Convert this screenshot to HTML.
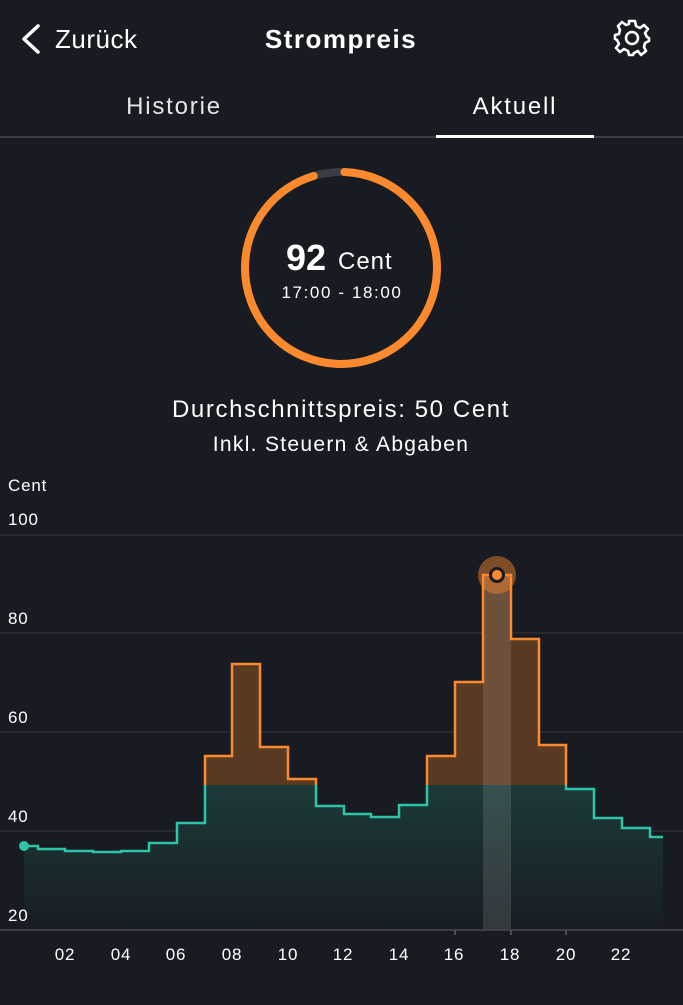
<!DOCTYPE html>
<html><head><meta charset="utf-8"><style>
html,body{margin:0;padding:0;background:#181b21;}
body{width:683px;height:1000px;overflow:hidden;font-family:"Liberation Sans","DejaVu Sans",sans-serif;}
</style></head><body>
<svg width="683" height="1000" viewBox="0 0 683 1000" xmlns="http://www.w3.org/2000/svg" font-family="Liberation Sans, DejaVu Sans, sans-serif">
<rect width="683" height="1000" fill="#181b21"/>
<!-- header -->
<path d="M38 26 L24 39 L38 52" fill="none" stroke="#fff" stroke-width="3.5" stroke-linecap="round" stroke-linejoin="round"/>
<text x="55" y="48" fill="#fff" font-size="26" letter-spacing="0.5">Zurück</text>
<text x="341" y="48" fill="#fff" font-size="26" font-weight="bold" text-anchor="middle" letter-spacing="1.5">Strompreis</text>
<g transform="translate(632,38)" fill="none" stroke="#fff" stroke-width="2.6">
<path d="M-3,-17 L3,-17 L4,-12 L8,-10 L12,-13 L16,-9 L13,-5 L15,-1 L17,0 L17,3 L13,5 L12,9 L14,13 L9,17 L6,13 L2,15 L1,17 L-3,17 L-4,13 L-8,11 L-12,14 L-16,10 L-13,6 L-15,2 L-17,1 L-17,-3 L-13,-4 L-12,-8 L-14,-12 L-10,-16 L-6,-13 L-3,-14 Z" stroke-linejoin="round"/>
<circle r="6"/>
</g>
<text x="174" y="114" fill="#e6e6e6" font-size="24" text-anchor="middle" letter-spacing="1.8">Historie</text>
<text x="515" y="114" fill="#fff" font-size="24" text-anchor="middle" letter-spacing="1.8">Aktuell</text>
<rect x="0" y="136" width="683" height="2" fill="#3a3e46"/>
<rect x="436" y="135" width="158" height="3" fill="#fff"/>
<!-- ring -->
<circle cx="341" cy="268" r="96" fill="none" stroke="#383c44" stroke-width="8"/>
<circle cx="341" cy="268" r="96" fill="none" stroke="#fb8a2e" stroke-width="8" stroke-dasharray="572 1000" transform="rotate(-88 341 268)" stroke-linecap="round"/>
<text x="306" y="270" fill="#fff" font-size="36" font-weight="bold" text-anchor="middle">92</text>
<text x="338" y="269" fill="#fff" font-size="24" letter-spacing="1">Cent</text>
<text x="342" y="298" fill="#fff" font-size="17" text-anchor="middle" letter-spacing="1.6">17:00 - 18:00</text>
<text x="341" y="417" fill="#fff" font-size="24" text-anchor="middle" letter-spacing="1.6">Durchschnittspreis: 50 Cent</text>
<text x="341" y="451" fill="#fff" font-size="21" text-anchor="middle" letter-spacing="1.3">Inkl. Steuern &amp; Abgaben</text>
<!-- axes -->
<g stroke="#33373f" stroke-width="1">
<line x1="0" y1="535" x2="683" y2="535"/><line x1="0" y1="633" x2="683" y2="633"/><line x1="0" y1="732" x2="683" y2="732"/><line x1="0" y1="831" x2="683" y2="831"/>
</g>
<defs>
<linearGradient id="tg" x1="0" y1="785" x2="0" y2="930" gradientUnits="userSpaceOnUse">
<stop offset="0" stop-color="#1c3a38"/><stop offset="1" stop-color="#181d22"/></linearGradient>
<clipPath id="top"><rect x="0" y="0" width="683" height="785"/></clipPath>
<clipPath id="bot"><rect x="0" y="785" width="683" height="200"/></clipPath>
</defs>
<g id="chart">
<path d="M24 930 L24 846 L38 846 L38 849 L65 849 L65 851 L93 851 L93 852 L121 852 L121 851 L149 851 L149 843 L177 843 L177 823 L205 823 L205 756 L232 756 L232 664 L260 664 L260 747 L288 747 L288 779 L316 779 L316 806 L344 806 L344 814 L371 814 L371 817 L399 817 L399 805 L427 805 L427 756 L455 756 L455 682 L483 682 L483 575 L511 575 L511 639 L539 639 L539 745 L566 745 L566 789 L594 789 L594 818 L622 818 L622 828 L650 828 L650 837 L663 837 L663 930 Z" fill="url(#tg)" clip-path="url(#bot)"/>
<path d="M24 930 L24 846 L38 846 L38 849 L65 849 L65 851 L93 851 L93 852 L121 852 L121 851 L149 851 L149 843 L177 843 L177 823 L205 823 L205 756 L232 756 L232 664 L260 664 L260 747 L288 747 L288 779 L316 779 L316 806 L344 806 L344 814 L371 814 L371 817 L399 817 L399 805 L427 805 L427 756 L455 756 L455 682 L483 682 L483 575 L511 575 L511 639 L539 639 L539 745 L566 745 L566 789 L594 789 L594 818 L622 818 L622 828 L650 828 L650 837 L663 837 L663 930 Z" fill="#5a3a22" clip-path="url(#top)"/>
<rect x="483" y="575" width="28" height="355" fill="#ffffff" opacity="0.12"/>
<path d="M24 846 L38 846 L38 849 L65 849 L65 851 L93 851 L93 852 L121 852 L121 851 L149 851 L149 843 L177 843 L177 823 L205 823 L205 756 L232 756 L232 664 L260 664 L260 747 L288 747 L288 779 L316 779 L316 806 L344 806 L344 814 L371 814 L371 817 L399 817 L399 805 L427 805 L427 756 L455 756 L455 682 L483 682 L483 575 L511 575 L511 639 L539 639 L539 745 L566 745 L566 789 L594 789 L594 818 L622 818 L622 828 L650 828 L650 837 L663 837" fill="none" stroke="#2ec4a8" stroke-width="2.5" clip-path="url(#bot)"/>
<path d="M24 846 L38 846 L38 849 L65 849 L65 851 L93 851 L93 852 L121 852 L121 851 L149 851 L149 843 L177 843 L177 823 L205 823 L205 756 L232 756 L232 664 L260 664 L260 747 L288 747 L288 779 L316 779 L316 806 L344 806 L344 814 L371 814 L371 817 L399 817 L399 805 L427 805 L427 756 L455 756 L455 682 L483 682 L483 575 L511 575 L511 639 L539 639 L539 745 L566 745 L566 789 L594 789 L594 818 L622 818 L622 828 L650 828 L650 837 L663 837" fill="none" stroke="#fb8a2e" stroke-width="2.5" clip-path="url(#top)"/>
</g>
<line x1="0" y1="930" x2="683" y2="930" stroke="#454952" stroke-width="1.5"/>
<text x="8" y="491" fill="#fff" font-size="17" letter-spacing="0.8">Cent</text>
<g fill="#fff" font-size="17" letter-spacing="0.8">
<text x="8" y="525">100</text><text x="8" y="624">80</text><text x="8" y="723">60</text><text x="8" y="822">40</text><text x="8" y="921">20</text>
</g>
<g fill="#fff" font-size="17" text-anchor="middle" letter-spacing="0.8">
<text x="65" y="960">02</text><text x="121" y="960">04</text><text x="176" y="960">06</text><text x="232" y="960">08</text><text x="288" y="960">10</text><text x="343" y="960">12</text><text x="399" y="960">14</text><text x="454" y="960">16</text><text x="510" y="960">18</text><text x="566" y="960">20</text><text x="621" y="960">22</text>
</g>
<g stroke="#5a5e66" stroke-width="1.5">
<line x1="455" y1="930" x2="455" y2="935"/><line x1="511" y1="930" x2="511" y2="935"/><line x1="566" y1="930" x2="566" y2="935"/>
</g>
<circle cx="24" cy="846" r="5" fill="#2ec4a8"/>
<circle cx="497" cy="575" r="19" fill="#fb8a2e" opacity="0.45"/>
<circle cx="497" cy="575" r="6.5" fill="#fb8a2e" stroke="#181b21" stroke-width="3"/>
</svg>
</body></html>
